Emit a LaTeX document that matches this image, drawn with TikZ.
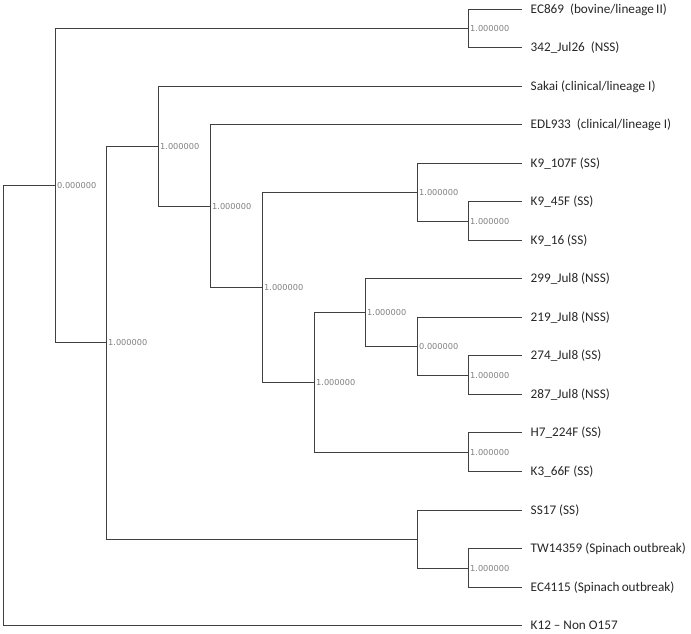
\documentclass[tikz,border=0pt]{standalone}
\usepackage{fontspec}
\setmainfont{Carlito}
\newfontfamily\lblfont{DejaVu Sans}
\newcommand{\wsp}{\hspace{0.45em}}
\begin{document}
\begin{tikzpicture}[x=1pt,y=-1pt,
  branch/.style={draw=black!75, line width=1.2pt},
  leaf/.style={anchor=west, inner xsep=8.5pt, inner ysep=0pt, font=\fontsize{13.2}{15}\selectfont, text=black!85},
  supp/.style={anchor=west, inner xsep=1.5pt, inner ysep=0pt, font=\lblfont\fontsize{8.2}{9}\selectfont, text=black!50}]
\useasboundingbox (0,0) rectangle (691,634);
% leaves
\node[leaf] (l0) at (522,9.5) {EC869\wsp(bovine/lineage\,II)};
\node[leaf] (l1) at (522,47.5) {342\_Jul26\wsp(NSS)};
\node[leaf] (l2) at (522,86.5) {Sakai (clinical/lineage I)};
\node[leaf] (l3) at (522,124.5) {EDL933\wsp(clinical/lineage I)};
\node[leaf] (l4) at (522,163.5) {K9\_107F (SS)};
\node[leaf] (l5) at (522,201.5) {K9\_45F (SS)};
\node[leaf] (l6) at (522,240.5) {K9\_16 (SS)};
\node[leaf] (l7) at (522,278.5) {299\_Jul8 (NSS)};
\node[leaf] (l8) at (522,317.5) {219\_Jul8 (NSS)};
\node[leaf] (l9) at (522,355.5) {274\_Jul8 (SS)};
\node[leaf] (l10) at (522,394.5) {287\_Jul8 (NSS)};
\node[leaf] (l11) at (522,432.5) {H7\_224F (SS)};
\node[leaf] (l12) at (522,471.5) {K3\_66F (SS)};
\node[leaf] (l13) at (522,510.5) {SS17 (SS)};
\node[leaf] (l14) at (522,548.5) {TW14359 (Spinach\,outbreak)};
\node[leaf] (l15) at (522,587.5) {EC4115 (Spinach\,outbreak)};
\node[leaf] (l16) at (522,625.5) {K12 – Non O157};
% internal nodes
\coordinate (R) at (3.5,405.5);
\coordinate (A) at (55.5,185.5);
\coordinate (P) at (468.5,28.5);
\coordinate (B) at (106.5,342.5);
\coordinate (C) at (158.5,146.5);
\coordinate (D) at (210.5,206.5);
\coordinate (E) at (262.5,287.5);
\coordinate (F) at (417.5,192.5);
\coordinate (G) at (468.5,221.5);
\coordinate (H) at (314.5,382.5);
\coordinate (I) at (365.5,312.5);
\coordinate (J) at (417.5,346.5);
\coordinate (K) at (468.5,375.5);
\coordinate (L) at (468.5,452.5);
\coordinate (M) at (417.5,539.5);
\coordinate (N) at (468.5,568.5);
% branches
\draw[branch] (R) |- (A);  \draw[branch] (R) |- (l16.west);
\draw[branch] (A) |- (P);  \draw[branch] (A) |- (B);
\draw[branch] (P) |- (l0.west);  \draw[branch] (P) |- (l1.west);
\draw[branch] (B) |- (C);  \draw[branch] (B) |- (M);
\draw[branch] (C) |- (l2.west);  \draw[branch] (C) |- (D);
\draw[branch] (D) |- (l3.west);  \draw[branch] (D) |- (E);
\draw[branch] (E) |- (F);  \draw[branch] (E) |- (H);
\draw[branch] (F) |- (l4.west);  \draw[branch] (F) |- (G);
\draw[branch] (G) |- (l5.west);  \draw[branch] (G) |- (l6.west);
\draw[branch] (H) |- (I);  \draw[branch] (H) |- (L);
\draw[branch] (I) |- (l7.west);  \draw[branch] (I) |- (J);
\draw[branch] (J) |- (l8.west);  \draw[branch] (J) |- (K);
\draw[branch] (K) |- (l9.west);  \draw[branch] (K) |- (l10.west);
\draw[branch] (L) |- (l11.west);  \draw[branch] (L) |- (l12.west);
\draw[branch] (M) |- (l13.west);  \draw[branch] (M) |- (N);
\draw[branch] (N) |- (l14.west);  \draw[branch] (N) |- (l15.west);
% support values
\node[supp] (sA) at (A) {0.000000};
\node[supp] (sP) at (P) {1.000000};
\node[supp] (sB) at (B) {1.000000};
\node[supp] (sC) at (C) {1.000000};
\node[supp] (sD) at (D) {1.000000};
\node[supp] (sE) at (E) {1.000000};
\node[supp] (sF) at (F) {1.000000};
\node[supp] (sG) at (G) {1.000000};
\node[supp] (sH) at (H) {1.000000};
\node[supp] (sI) at (I) {1.000000};
\node[supp] (sJ) at (J) {0.000000};
\node[supp] (sK) at (K) {1.000000};
\node[supp] (sL) at (L) {1.000000};
\node[supp] (sN) at (N) {1.000000};
\end{tikzpicture}
\end{document}
